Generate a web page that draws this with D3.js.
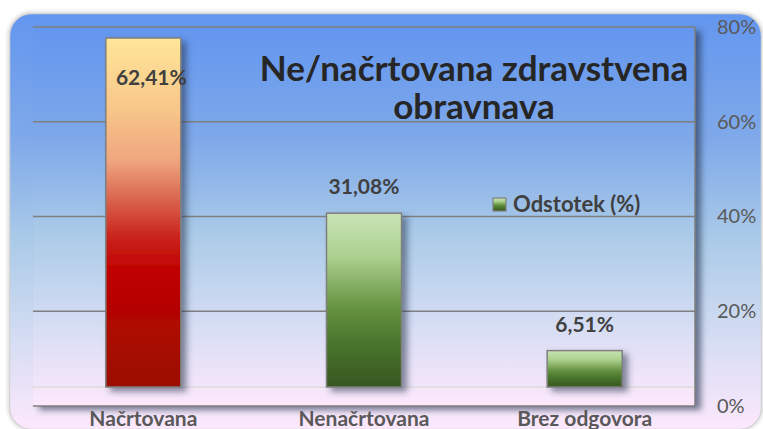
<!DOCTYPE html>
<html>
<head>
<meta charset="utf-8">
<script src="https://cdn.jsdelivr.net/npm/d3@7"></script>
<style>
  body { margin: 0; background: #fff; }
  svg { display: block; }
  text { font-family: Lato, "Open Sans", sans-serif; }
</style>
</head>
<body>
<div id="chart"><svg></svg></div>
<script>
// data
const categories = ['Načrtovana', 'Nenačrtovana', 'Brez odgovora'];
const values = [62.41, 31.08, 6.51];
const valueLabels = ['62,41%', '31,08%', '6,51%'];
const axisTicks = [0, 20, 40, 60, 80];
const titleLines = ['Ne/načrtovana zdravstvena', 'obravnava'];
const legendLabel = 'Odstotek (%)';

const W = 763, H = 429;
const plot = {left: 33, right: 695, top: 27, bottom: 406, floor: 387};

const svg = d3.select('#chart').select('svg')
    .attr('width', W)
    .attr('height', H);

const defs = svg.append('defs');

const bg = defs.append('linearGradient').attr('id', 'bg')
    .attr('x1', 0).attr('y1', 0).attr('x2', 0).attr('y2', 1);
[[0, '#6396ef'], [0.3, '#7fa9e9'], [0.55, '#abcbe8'], [0.8, '#d8def4'], [1, '#fde8fc']]
  .forEach(s => bg.append('stop').attr('offset', s[0]).attr('stop-color', s[1]));

const red = defs.append('linearGradient').attr('id', 'redGrad')
    .attr('x1', 0).attr('y1', 0).attr('x2', 0).attr('y2', 1);
[[0, '#ffe699'], [0.2, '#f7c78a'], [0.35, '#efa67f'], [0.46, '#da6650'], [0.57, '#c9231b'], [0.67, '#c00000'], [1, '#9a1005']]
  .forEach(s => red.append('stop').attr('offset', s[0]).attr('stop-color', s[1]));

const green = defs.append('linearGradient').attr('id', 'greenGrad')
    .attr('x1', 0).attr('y1', 0).attr('x2', 0).attr('y2', 1);
[[0, '#c8e3b6'], [0.25, '#acd18f'], [0.55, '#64913f'], [0.75, '#48752c'], [1, '#38561f']]
  .forEach(s => green.append('stop').attr('offset', s[0]).attr('stop-color', s[1]));

const shadow = defs.append('filter').attr('id', 'shadow')
    .attr('x', '-20%').attr('y', '-20%').attr('width', '150%').attr('height', '150%');
shadow.append('feDropShadow')
    .attr('dx', 5).attr('dy', 4).attr('stdDeviation', 3)
    .attr('flood-color', '#2a3550').attr('flood-opacity', 0.55);

const wallShadow = defs.append('filter').attr('id', 'wallShadow')
    .attr('x', '-5%').attr('y', '-5%').attr('width', '115%').attr('height', '115%');
wallShadow.append('feDropShadow')
    .attr('dx', 6).attr('dy', 4).attr('stdDeviation', 3)
    .attr('flood-color', '#1e2a48').attr('flood-opacity', 0.6);

const outerShadow = defs.append('filter').attr('id', 'outerShadow')
    .attr('x', '-5%').attr('y', '-5%').attr('width', '110%').attr('height', '110%');
outerShadow.append('feDropShadow')
    .attr('dx', 0).attr('dy', 0).attr('stdDeviation', 2)
    .attr('flood-color', '#000').attr('flood-opacity', 0.25);

// chart area
svg.append('rect')
    .attr('x', 9.5).attr('y', 13.5)
    .attr('width', 752).attr('height', 416)
    .attr('rx', 22)
    .attr('fill', 'url(#bg)')
    .attr('stroke', '#d4d4d4')
    .attr('stroke-width', 1.5)
    .attr('filter', 'url(#outerShadow)');

// scales
const xScale = d3.scaleBand()
    .domain(categories)
    .range([plot.left, plot.right])
    .paddingInner(0.66)
    .paddingOuter(0.33);

const yAxisScale = d3.scaleLinear()
    .domain([0, 80])
    .range([plot.bottom, plot.top]);

// bars sit on the front floor, taller than the back wall scale
const yBar = d3.scaleLinear()
    .domain([0, 62.41])
    .range([plot.floor, 38]);

// back wall with its shadow
svg.append('rect')
    .attr('x', plot.left).attr('y', plot.top)
    .attr('width', plot.right - plot.left).attr('height', plot.bottom - plot.top)
    .attr('fill', 'url(#bg)')
    .attr('filter', 'url(#wallShadow)');

svg.append('rect')
    .attr('x', plot.left).attr('y', plot.top)
    .attr('width', plot.right - plot.left).attr('height', plot.bottom - plot.top)
    .attr('fill', 'url(#bg)');

// gridlines
svg.append('g')
    .selectAll('line')
    .data(axisTicks.filter(d => d > 0))
    .join('line')
    .attr('x1', plot.left).attr('x2', plot.right)
    .attr('y1', d => yAxisScale(d)).attr('y2', d => yAxisScale(d))
    .attr('stroke', '#7f7f7f')
    .attr('stroke-width', 1.5);

svg.append('line')
    .attr('x1', plot.left).attr('x2', plot.right)
    .attr('y1', plot.floor).attr('y2', plot.floor)
    .attr('stroke', '#dcdcdc')
    .attr('stroke-width', 1.5);

svg.append('line')
    .attr('x1', plot.left).attr('x2', plot.right)
    .attr('y1', plot.bottom).attr('y2', plot.bottom)
    .attr('stroke', '#7f7f7f')
    .attr('stroke-width', 1.5);

svg.append('line')
    .attr('x1', plot.right).attr('x2', plot.right)
    .attr('y1', plot.top).attr('y2', plot.bottom)
    .attr('stroke', '#7f7f7f')
    .attr('stroke-width', 1.5);

// right axis
const yAxis = svg.append('g')
    .attr('transform', `translate(${plot.right + 22}, 0)`)
    .call(d3.axisRight(yAxisScale).tickValues(axisTicks).tickFormat(d => d + '%').tickSize(0));
yAxis.select('.domain').remove();
yAxis.selectAll('text')
    .attr('x', 0)
    .attr('font-family', 'Lato, sans-serif')
    .attr('font-size', 20)
    .attr('fill', '#595959');

// bars
svg.append('g')
    .selectAll('rect')
    .data(values)
    .join('rect')
    .attr('x', (d, i) => xScale(categories[i]))
    .attr('y', d => yBar(d))
    .attr('width', xScale.bandwidth())
    .attr('height', d => plot.floor - yBar(d))
    .attr('fill', (d, i) => i === 0 ? 'url(#redGrad)' : 'url(#greenGrad)')
    .attr('stroke', '#7f7f7f')
    .attr('stroke-width', 1.5)
    .attr('filter', 'url(#shadow)');

// value labels
svg.append('g')
    .selectAll('text')
    .data(values)
    .join('text')
    .attr('x', (d, i) => xScale(categories[i]) + xScale.bandwidth() / 2 + (i === 0 ? 8 : 0))
    .attr('y', d => yBar(d) - 19 < 60 ? yBar(d) + 47 : yBar(d) - 19)
    .attr('text-anchor', 'middle')
    .attr('font-size', 21)
    .attr('font-weight', 'bold')
    .attr('fill', '#404040')
    .text((d, i) => valueLabels[i]);

// category labels
svg.append('g')
    .selectAll('text')
    .data(categories)
    .join('text')
    .attr('x', d => xScale(d) + xScale.bandwidth() / 2)
    .attr('y', 426)
    .attr('text-anchor', 'middle')
    .attr('font-size', 21)
    .attr('font-weight', 'bold')
    .attr('fill', '#595959')
    .text(d => d);

// title
svg.append('text')
    .attr('x', 474)
    .attr('y', 81)
    .attr('text-anchor', 'middle')
    .attr('font-size', 35)
    .attr('font-weight', 'bold')
    .attr('fill', '#262626')
    .selectAll('tspan')
    .data(titleLines)
    .join('tspan')
    .attr('x', 474)
    .attr('dy', (d, i) => i === 0 ? 0 : 38)
    .text(d => d);

// legend
const legend = svg.append('g')
    .attr('transform', 'translate(493, 198)');
legend.append('rect')
    .attr('width', 13).attr('height', 13)
    .attr('fill', 'url(#greenGrad)')
    .attr('stroke', '#7f7f7f')
    .attr('stroke-width', 1.2);
legend.append('text')
    .attr('x', 20)
    .attr('y', 14)
    .attr('font-size', 22)
    .attr('font-weight', 'bold')
    .attr('fill', '#404040')
    .text(legendLabel);
</script>
</body>
</html>
